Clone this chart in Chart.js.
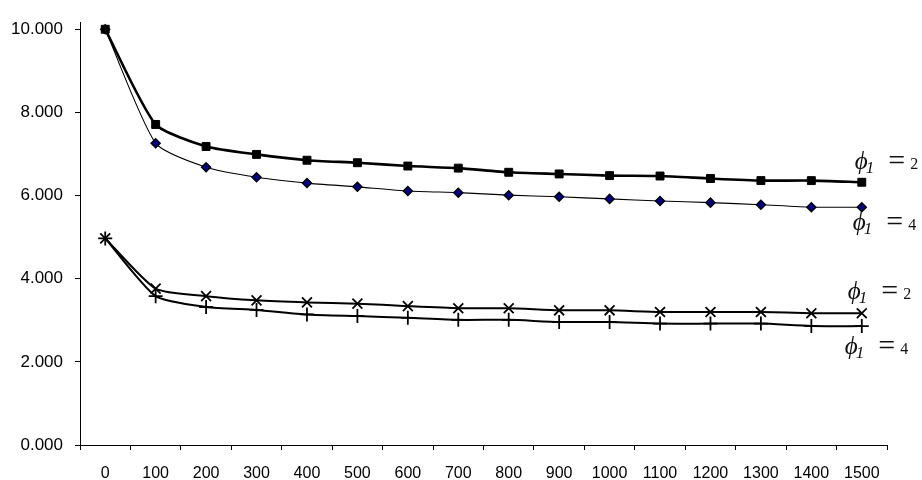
<!DOCTYPE html>
<html>
<head>
<meta charset="utf-8">
<script src="https://cdn.jsdelivr.net/npm/chart.js@4.4.1/dist/chart.umd.min.js"></script>
<style>
  html, body { margin: 0; padding: 0; background: #ffffff; }
  #wrap { width: 922px; height: 480px; position: relative; }
</style>
</head>
<body>
<div id="wrap"><canvas id="c" width="922" height="480"></canvas></div>
<script>
const categories = ['0','100','200','300','400','500','600','700','800','900','1000','1100','1200','1300','1400','1500'];
const seriesA = [10.00, 7.71, 7.18, 6.99, 6.85, 6.79, 6.71, 6.66, 6.56, 6.52, 6.48, 6.47, 6.41, 6.36, 6.36, 6.32];
const seriesB = [10.00, 7.26, 6.68, 6.44, 6.30, 6.21, 6.11, 6.07, 6.01, 5.97, 5.92, 5.87, 5.83, 5.78, 5.72, 5.72];
const seriesC = [4.97, 3.76, 3.58, 3.48, 3.43, 3.40, 3.34, 3.29, 3.29, 3.24, 3.24, 3.20, 3.20, 3.20, 3.17, 3.17];
const seriesD = [4.97, 3.58, 3.32, 3.25, 3.14, 3.10, 3.06, 3.01, 3.01, 2.96, 2.96, 2.92, 2.92, 2.92, 2.86, 2.86];
const yTicks = [0, 2, 4, 6, 8, 10];
const endLabels = [
  { series: 0, num: '2', dx: -7,  dy: -13 },
  { series: 1, num: '4', dx: -9,  dy: 23 },
  { series: 2, num: '2', dx: -14, dy: -14 },
  { series: 3, num: '4', dx: -17, dy: 28 }
];

const phiPlugin = {
  id: 'phiLabels',
  afterDatasetsDraw(chart) {
    const ctx = chart.ctx;
    ctx.save();
    ctx.fillStyle = '#111';
    ctx.textBaseline = 'alphabetic';
    ctx.textAlign = 'left';
    endLabels.forEach(l => {
      const meta = chart.getDatasetMeta(l.series);
      const pt = meta.data[meta.data.length - 1];
      let x = pt.x + l.dx;
      const y = pt.y + l.dy;
      ctx.font = 'italic 25px "Liberation Serif", "Times New Roman", serif';
      ctx.fillText('ϕ', x, y);
      x += ctx.measureText('ϕ').width;
      ctx.font = 'italic 17px "Liberation Serif", "Times New Roman", serif';
      ctx.fillText('1', x - 2, y + 4);
      x += ctx.measureText('1').width + 12;
      ctx.font = '30px "Liberation Serif", "Times New Roman", serif';
      ctx.fillText('=', x, y + 1);
      x += ctx.measureText('=').width + 5;
      ctx.font = '16px "Liberation Serif", "Times New Roman", serif';
      ctx.fillText(l.num, x, y);
    });
    ctx.restore();
  }
};

new Chart(document.getElementById('c'), {
  type: 'line',
  data: {
    labels: categories,
    datasets: [
      { data: seriesA, borderColor: '#000', borderWidth: 2.6, tension: 0.2,
        pointStyle: 'rect', pointRadius: 5.6, pointBackgroundColor: '#000', pointBorderColor: '#000', pointBorderWidth: 1 },
      { data: seriesB, borderColor: '#000', borderWidth: 1.1, tension: 0.2,
        pointStyle: 'rectRot', pointRadius: 4.6, pointBackgroundColor: '#000080', pointBorderColor: '#000', pointBorderWidth: 1.3 },
      { data: seriesC, borderColor: '#000', borderWidth: 2, tension: 0.2,
        pointStyle: 'crossRot', pointRadius: 7, pointBorderColor: '#000', pointBorderWidth: 1.8 },
      { data: seriesD, borderColor: '#000', borderWidth: 2, tension: 0.2,
        pointStyle: 'cross', pointRadius: 7, pointBorderColor: '#000', pointBorderWidth: 1.8 }
    ]
  },
  options: {
    responsive: false,
    animation: false,
    layout: { padding: { top: 19, right: 35, left: 0, bottom: 0 } },
    plugins: { legend: { display: false }, tooltip: { enabled: false } },
    scales: {
      x: {
        offset: true,
        grid: { offset: true, drawOnChartArea: false, drawTicks: true, tickLength: 5, color: '#000', lineWidth: 1 },
        border: { display: true, color: '#000', width: 1 },
        ticks: { color: '#000', font: { family: '"Liberation Sans", Arial, sans-serif', size: 16 }, padding: 14, maxRotation: 0, autoSkip: false },
        afterFit(s) { s.height = 35; }
      },
      y: {
        min: 0, max: 10.17,
        afterBuildTicks(s) { s.ticks = yTicks.map(v => ({ value: v })); },
        grid: { drawOnChartArea: false, drawTicks: true, tickLength: 5, color: '#000', lineWidth: 1 },
        border: { display: true, color: '#000', width: 1 },
        ticks: { color: '#000', font: { family: '"Liberation Sans", Arial, sans-serif', size: 17 }, padding: 12,
          callback: v => v.toFixed(3) },
        afterFit(s) { s.width = 80; }
      }
    }
  },
  plugins: [phiPlugin]
});
</script>
</body>
</html>
